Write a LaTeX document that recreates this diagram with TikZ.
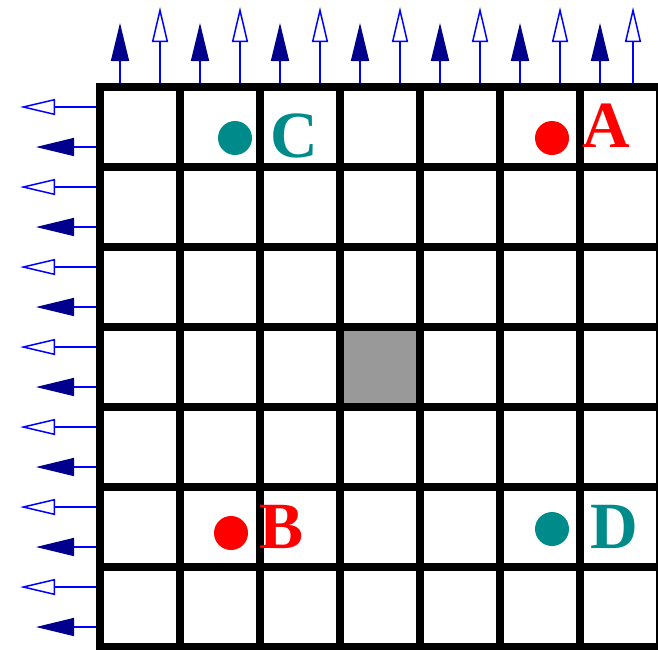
\documentclass[tikz,border=0pt]{standalone}
\usepackage{fontspec}
\newfontfamily\letterfont{Liberation Serif}
\newcommand{\lettertext}[1]{\letterfont\fontsize{22}{22}\selectfont\bfseries #1}
\usetikzlibrary{arrows.meta}
\definecolor{navyc}{RGB}{0,0,140}
\definecolor{bluec}{RGB}{0,0,255}
\definecolor{tealc}{RGB}{0,139,139}
\definecolor{redc}{RGB}{255,0,0}
\definecolor{cellgray}{RGB}{153,153,153}
\tikzset{
  gridline/.style={line width=8pt, black},
  fillarrow/.style={draw=bluec, line width=1.5pt, -{Triangle[length=38pt,width=18pt,color=navyc]}},
  openarrow/.style={draw=bluec, line width=1.5pt, -{Triangle[open,length=35pt,width=16pt]}},
  dot/.style={circle, minimum size=34pt, inner sep=0pt, draw=none},
  letter/.style={anchor=base west, inner sep=0pt, scale=3}
}
\begin{document}
\begin{tikzpicture}[x=1pt,y=-1pt]
\useasboundingbox (0,0) rectangle (658,649);
\clip (0,0) rectangle (658,649);
\fill[white] (0,0) rectangle (658,649);
% gray cell
\fill[cellgray] (340,327) rectangle (420,407);
% grid
\foreach \i in {0,...,7} {
  \draw[gridline] (100+80*\i,83) -- (100+80*\i,700);
  \draw[gridline] (96,87+80*\i) -- (700,87+80*\i);
}
% top arrows
\foreach \xf/\xo [count=\k] in {120/160,200/240,280/320,360/400,440/480,520/560,600/633} {
  \coordinate (tfb\k) at (\xf,83);
  \coordinate (tfe\k) at (\xf,23);
  \coordinate (tob\k) at (\xo,83);
  \coordinate (toe\k) at (\xo,7);
  \draw[fillarrow] (tfb\k) -- (tfe\k);
  \draw[openarrow] (tob\k) -- (toe\k);
}
% left arrows
\foreach \k in {0,...,6} {
  \coordinate (lob\k) at (96,107+80*\k);
  \coordinate (loe\k) at (20,107+80*\k);
  \coordinate (lfb\k) at (96,147+80*\k);
  \coordinate (lfe\k) at (36,147+80*\k);
  \draw[openarrow] (lob\k) -- (loe\k);
  \draw[fillarrow] (lfb\k) -- (lfe\k);
}
% dots and labels
\node[dot, fill=redc] (dotA) at (552,138) {};
\node[letter, text=redc] (labA) at (582,147) {\lettertext{A}};
\node[dot, fill=redc] (dotB) at (231,533) {};
\node[letter, text=redc] (labB) at (259,548) {\lettertext{B}};
\node[dot, fill=tealc] (dotC) at (235,138) {};
\node[letter, text=tealc] (labC) at (270,157) {\lettertext{C}};
\node[dot, fill=tealc] (dotD) at (552,529) {};
\node[letter, text=tealc] (labD) at (590,548) {\lettertext{D}};
\end{tikzpicture}
\end{document}
